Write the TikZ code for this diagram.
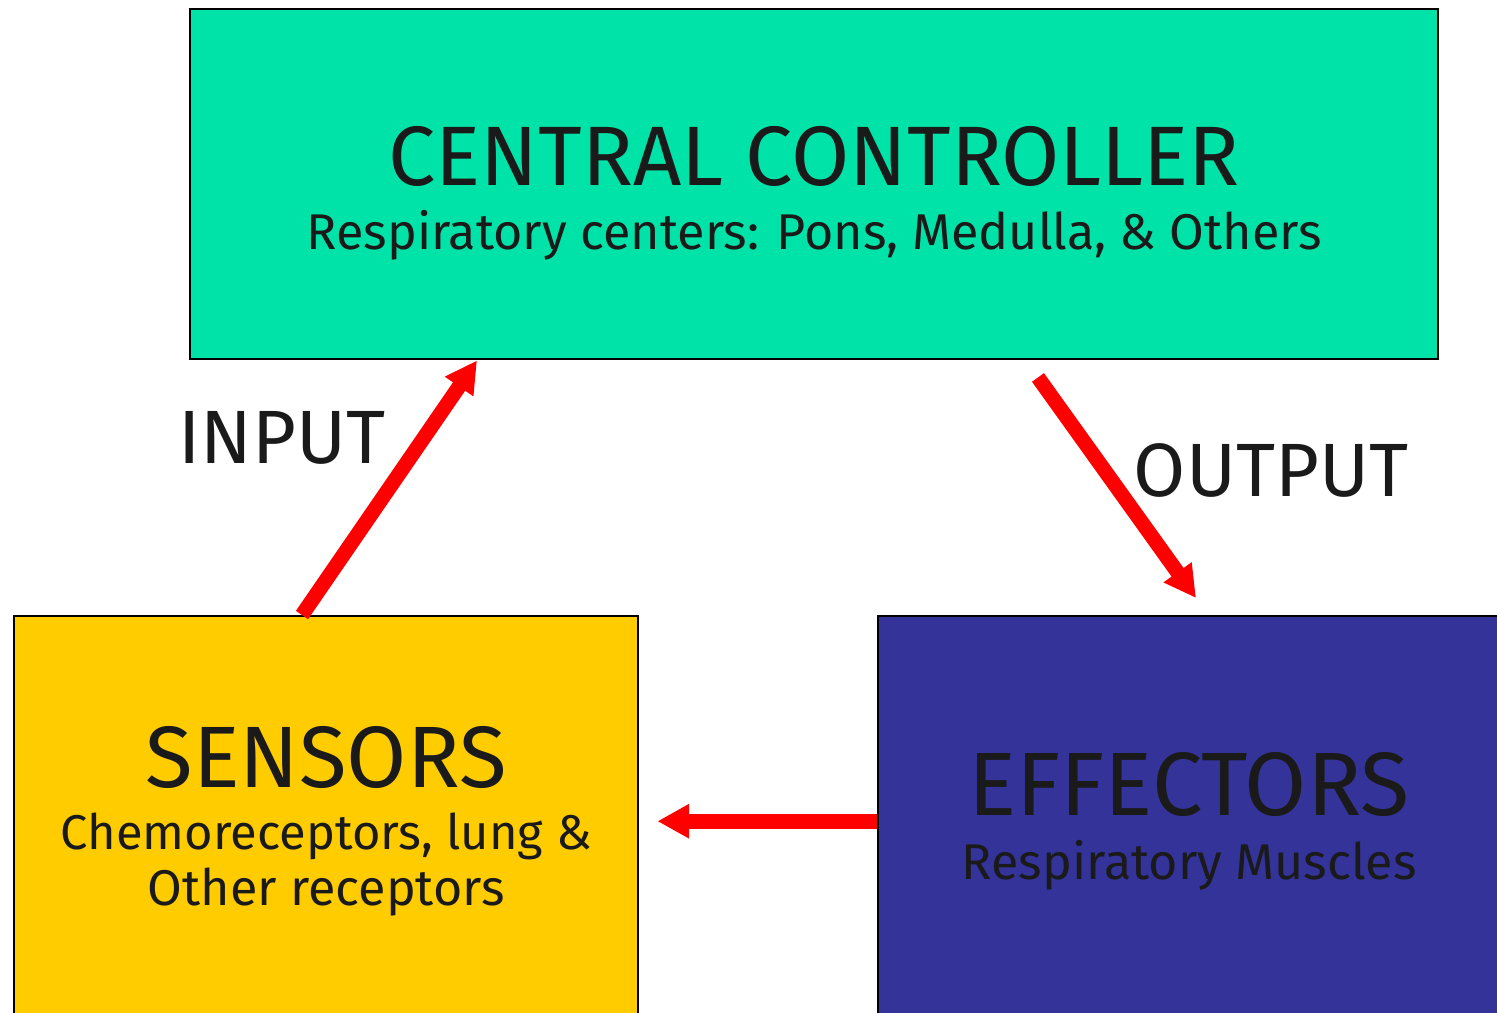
\documentclass[tikz,border=0pt]{standalone}
\usepackage{fontspec}
\setmainfont{Fira Sans}
\usepackage{tikz}
\usetikzlibrary{arrows.meta,calc,positioning}
\definecolor{controlGreen}{HTML}{00E3A8}
\definecolor{sensorYellow}{HTML}{FFCC00}
\definecolor{effectorBlue}{HTML}{333399}
\definecolor{arrowRed}{HTML}{FF0000}
\definecolor{textBlack}{HTML}{1A1A1A}

\begin{document}
\begin{tikzpicture}[
  box/.style={draw=black,line width=0.7pt,align=center,text=textBlack,inner sep=0pt},
  flow/.style={arrowRed,line width=4.2pt,-{Triangle[length=9pt,width=9.2pt]}},
  tag/.style={text=textBlack,font=\fontsize{21.5}{24}\selectfont}]
\useasboundingbox (0,0) rectangle (14.97,10.12);
\clip (0,0) rectangle (14.97,10.12);
\node[box,fill=controlGreen,minimum width=12.48cm,minimum height=3.5cm,anchor=north west] (central) at (1.89,10.04)
  {\fontsize{24}{18}\selectfont\rule{0pt}{22pt}CENTRAL CONTROLLER\\[6pt]
   \fontsize{14.3}{18}\selectfont Respiratory centers: Pons, Medulla, \& Others};
\node[box,fill=sensorYellow,minimum width=6.24cm,minimum height=4.1cm,anchor=north west] (sensors) at (0.13,3.97)
  {\fontsize{24.8}{18}\selectfont SENSORS\\[5.5pt]
   \fontsize{13.9}{18}\selectfont Chemoreceptors, lung \&\\[1.3pt]
   \fontsize{14.3}{18}\selectfont Other receptors};
\node[box,fill=effectorBlue,minimum width=6.22cm,minimum height=4.1cm,anchor=north west] (effectors) at (8.77,3.97)
  {\fontsize{25.6}{18}\selectfont EFFECTORS\\[6pt]
   \fontsize{14.3}{18}\selectfont Respiratory Muscles};
\node[tag] (inputLabel) at (2.82,5.74) {INPUT};
\node[tag] (outputLabel) at (12.71,5.42) {OUTPUT};
% loop arrows
\draw[flow] ([xshift=2.89cm]sensors.north west) -- ([xshift=2.88cm]central.south west);
\draw[flow] ([xshift=8.49cm,yshift=-0.17cm]central.south west) -- ([xshift=3.19cm,yshift=0.17cm]effectors.north west);
\draw[flow] (effectors.west) -- ([xshift=0.18cm]sensors.east);
\end{tikzpicture}
\end{document}
